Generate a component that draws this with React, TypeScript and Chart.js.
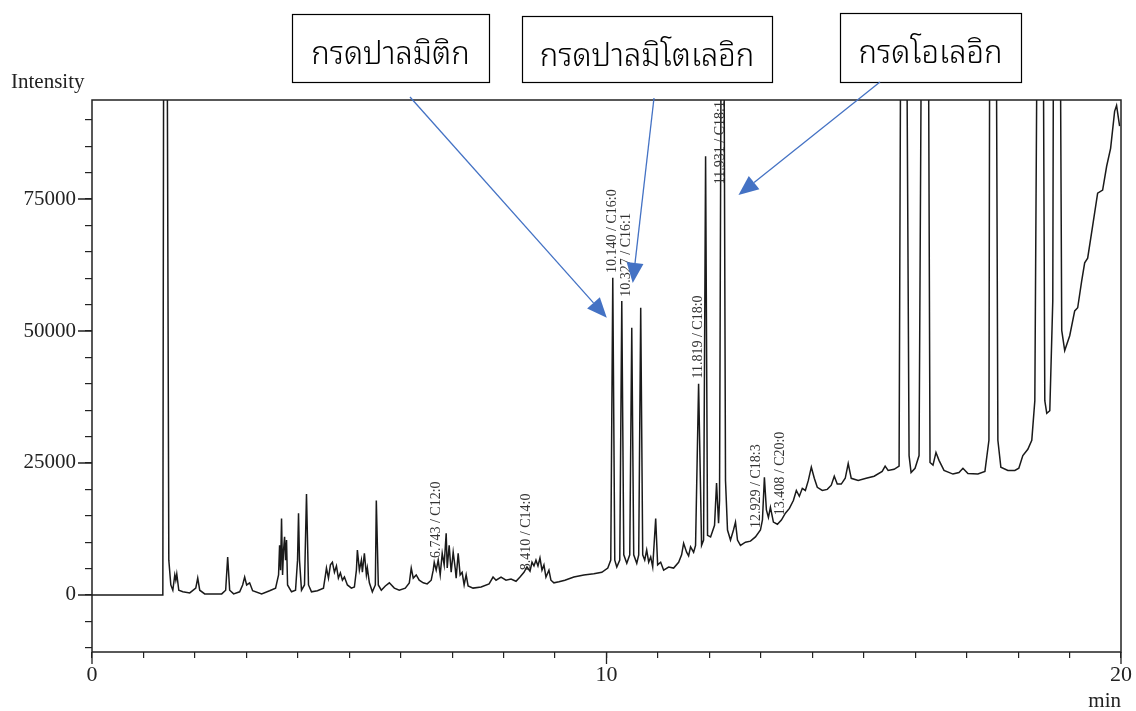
import React, { useEffect, useRef } from 'react';
import { Chart, registerables } from 'chart.js';

Chart.register(...registerables);

// Retention time (min)
const retentionTimes = [
  0, 1.377, 1.396, 1.454, 1.493, 1.532, 1.571, 1.609, 1.629, 1.648, 1.687, 1.765, 1.9, 2.017, 2.055, 2.094,
  2.191, 2.521, 2.598, 2.637, 2.676, 2.753, 2.87, 2.928, 2.967, 3.006, 3.064, 3.122, 3.297, 3.452, 3.568,
  3.626, 3.646, 3.665, 3.684, 3.704, 3.723, 3.743, 3.762, 3.781, 3.801, 3.878, 3.956, 3.995, 4.014, 4.033,
  4.072, 4.13, 4.169, 4.208, 4.266, 4.382, 4.499, 4.538, 4.557, 4.596, 4.634, 4.673, 4.712, 4.751, 4.789,
  4.828, 4.867, 4.906, 4.964, 5.042, 5.1, 5.139, 5.158, 5.197, 5.236, 5.255, 5.294, 5.333, 5.352, 5.391,
  5.449, 5.507, 5.526, 5.565, 5.623, 5.701, 5.779, 5.876, 5.972, 6.089, 6.167, 6.205, 6.244, 6.302, 6.36,
  6.438, 6.515, 6.593, 6.632, 6.652, 6.69, 6.729, 6.768, 6.807, 6.845, 6.884, 6.904, 6.942, 6.981, 7.02,
  7.059, 7.078, 7.117, 7.155, 7.194, 7.233, 7.272, 7.31, 7.407, 7.563, 7.718, 7.795, 7.853, 7.95, 8.047,
  8.144, 8.241, 8.319, 8.396, 8.454, 8.513, 8.552, 8.59, 8.629, 8.668, 8.707, 8.746, 8.784, 8.823, 8.881,
  8.92, 8.978, 9.075, 9.191, 9.366, 9.56, 9.754, 9.909, 10.025, 10.083, 10.122, 10.161, 10.2, 10.258,
  10.297, 10.336, 10.394, 10.452, 10.491, 10.529, 10.588, 10.626, 10.665, 10.704, 10.743, 10.781, 10.82,
  10.859, 10.898, 10.956, 10.994, 11.053, 11.111, 11.208, 11.305, 11.402, 11.46, 11.499, 11.557, 11.596,
  11.634, 11.693, 11.731, 11.79, 11.848, 11.887, 11.926, 11.964, 12.023, 12.1, 12.139, 12.178, 12.197,
  12.236, 12.275, 12.313, 12.352, 12.41, 12.468, 12.507, 12.546, 12.604, 12.701, 12.798, 12.895, 12.992,
  13.031, 13.069, 13.108, 13.147, 13.186, 13.244, 13.322, 13.399, 13.477, 13.555, 13.632, 13.69, 13.748,
  13.806, 13.865, 13.923, 13.981, 14.039, 14.097, 14.194, 14.291, 14.369, 14.427, 14.485, 14.563, 14.64,
  14.698, 14.757, 14.892, 15.047, 15.202, 15.358, 15.416, 15.474, 15.59, 15.687, 15.726, 15.823, 15.881,
  15.92, 15.997, 16.075, 16.133, 16.249, 16.288, 16.346, 16.404, 16.463, 16.56, 16.734, 16.851, 16.928,
  17.025, 17.219, 17.355, 17.433, 17.452, 17.568, 17.607, 17.665, 17.801, 17.937, 18.014, 18.092, 18.189,
  18.266, 18.325, 18.383, 18.48, 18.519, 18.557, 18.616, 18.674, 18.693, 18.809, 18.848, 18.906, 19.003,
  19.1, 19.158, 19.236, 19.294, 19.352, 19.449, 19.546, 19.643, 19.721, 19.798, 19.876, 19.914, 19.973,
];

// Detector intensity
const intensities = [
  0, 0, 130000, 130000, 6600, 1900, 900, 3800, 2800, 4000, 900, 600, 400, 1300, 3200, 900,
  200, 200, 900, 7200, 900, 200, 600, 1900, 3400, 1900, 2300, 800, 200, 800, 1300,
  3800, 9400, 4700, 14500, 3800, 8500, 11000, 6600, 10400, 1900, 600, 900, 6600, 15500, 6600,
  900, 1900, 19100, 1900, 600, 800, 1300, 3800, 5100, 3200, 5700, 6200, 4300, 5500, 3200,
  4200, 2800, 3400, 1900, 1300, 1500, 4700, 8500, 4700, 6600, 4300, 7900, 3800, 5100, 2300,
  600, 1900, 17900, 1900, 900, 1700, 2300, 1300, 900, 1300, 2300, 5100, 3200, 3800, 2800,
  2300, 2100, 2800, 4700, 6200, 4700, 6600, 3800, 7900, 5700, 11700, 5100, 9400, 4300, 8100,
  5100, 3200, 7900, 3800, 4300, 1900, 3800, 1700, 1300, 1500, 2100, 3400, 2800, 3400, 2800,
  3000, 2600, 3400, 4300, 5300, 4500, 6200, 5500, 6600, 5500, 7000, 4700, 5700, 3400, 4700,
  2800, 2300, 2500, 2800, 3400, 3800, 4000, 4300, 5100, 6600, 60100, 6600, 5300, 6600,
  55700, 7600, 6000, 7600, 50600, 7600, 6000, 7600, 54400, 7600, 6600, 8500, 6200,
  7200, 5300, 14500, 5700, 6200, 4700, 5300, 5100, 6200, 7600, 9800, 8100, 7400,
  9100, 8100, 9400, 40000, 9400, 10400, 83100, 11300, 11000, 13200, 21200, 13600, 17900,
  130000, 130000, 21700, 12300, 10400, 12300, 13800, 10400, 9400, 10000, 10200, 11000, 12300,
  14200, 22300, 16100, 14700, 16600, 13800, 13400, 14200, 15500, 16400, 17900, 19800, 18700,
  20200, 19800, 21700, 24200, 22100, 20400, 19800, 20000, 20800, 22500, 21000, 21000, 22100,
  24900, 22100, 21700, 22100, 22500, 23400, 24400, 23600, 23800, 24400, 130000, 130000, 26400,
  23200, 24000, 26400, 130000, 130000, 25100, 24600, 27000, 25500, 23600, 22900, 23200, 24000,
  23000, 22900, 23400, 29300, 130000, 130000, 29300, 24200, 23600, 23600, 24000, 26400, 27600,
  29300, 36800, 130000, 130000, 36800, 34400, 34900, 55700, 130000, 130000, 50100, 46300, 49100,
  53800, 54400, 59500, 62900, 63800, 69900, 76100, 76700, 81200, 84600, 91600, 92700, 88800,
];

// Peak annotations (rotated labels)
const peakLabelTexts = [
  '6.743 / C12:0', '8.410 / C14:0', '10.140 / C16:0', '10.327 / C16:1',
  '11.819 / C18:0', '11.931 / C18:1', '12.929 / C18:3', '13.408 / C20:0',
];
const peakLabelTimes = [6.69, 8.435, 10.12, 10.39, 11.79, 12.22, 12.915, 13.38];
const peakLabelBases = [7000, 4700, 61000, 56500, 41000, 77800, 12700, 15100];

// Axis ticks
const xTickValues = [0, 1, 2, 3, 4, 5, 6, 7, 8, 9, 10, 11, 12, 13, 14, 15, 16, 17, 18, 19, 20];
const xLabeledTicks = [0, 10, 20];
const yTickValues = [
  -10000, -5000, 0, 5000, 10000, 15000, 20000, 25000, 30000, 35000, 40000,
  45000, 50000, 55000, 60000, 65000, 70000, 75000, 80000, 85000, 90000,
];
const yLabeledTicks = [0, 25000, 50000, 75000];

// Callouts (Thai names) and the point each arrow targets
const calloutTexts = ['กรดปาลมิติก', 'กรดปาลมิโตเลอิก', 'กรดโอเลอิก'];
const calloutTargetTimes = [10.006, 10.51, 12.565];
const calloutTargetValues = [52500, 59100, 75750];

const SERIF = '"Liberation Serif", "Times New Roman", "DejaVu Serif", serif';
const THAI = '"Noto Sans Thai Looped", "Noto Serif Thai", "Noto Sans Thai", "Noto Sans", "DejaVu Sans", sans-serif';

// layout of the callout boxes (pixels) and arrow start points
const calloutBoxes = [
  { x: 292, y: 14, w: 197, h: 68, sx: 410, sy: 97 },
  { x: 522, y: 16, w: 250, h: 66, sx: 654, sy: 98 },
  { x: 840, y: 13, w: 181, h: 69, sx: 880, sy: 82 },
];

function drawArrow(ctx: CanvasRenderingContext2D, x0: number, y0: number, x1: number, y1: number) {
  const ang = Math.atan2(y1 - y0, x1 - x0);
  const headLen = 20;
  const headHalf = 8.5;
  const bx = x1 - Math.cos(ang) * headLen;
  const by = y1 - Math.sin(ang) * headLen;
  ctx.save();
  ctx.strokeStyle = '#4472C4';
  ctx.fillStyle = '#4472C4';
  ctx.lineWidth = 1.3;
  ctx.beginPath();
  ctx.moveTo(x0, y0);
  ctx.lineTo(bx, by);
  ctx.stroke();
  ctx.beginPath();
  ctx.moveTo(x1, y1);
  ctx.lineTo(bx + Math.sin(ang) * headHalf, by - Math.cos(ang) * headHalf);
  ctx.lineTo(bx - Math.sin(ang) * headHalf, by + Math.cos(ang) * headHalf);
  ctx.closePath();
  ctx.fill();
  ctx.restore();
}

const decorPlugin = {
  id: 'decor',
  afterDraw(chart: any) {
    const ctx: CanvasRenderingContext2D = chart.ctx;
    const { left, right, top, bottom } = chart.chartArea;
    const xs = chart.scales.x;
    const ys = chart.scales.y;
    ctx.save();
    // frame
    ctx.strokeStyle = '#222';
    ctx.lineWidth = 1.5;
    ctx.strokeRect(left, top, right - left, bottom - top);
    // longer major ticks
    ctx.lineWidth = 1.3;
    ctx.beginPath();
    yLabeledTicks.forEach((v) => {
      const py = ys.getPixelForValue(v);
      ctx.moveTo(left - 14, py);
      ctx.lineTo(left, py);
    });
    xLabeledTicks.forEach((v) => {
      const px = xs.getPixelForValue(v);
      ctx.moveTo(px, bottom);
      ctx.lineTo(px, bottom + 12);
    });
    ctx.stroke();
    // y axis title
    ctx.fillStyle = '#222';
    ctx.font = `21px ${SERIF}`;
    ctx.textAlign = 'left';
    ctx.textBaseline = 'alphabetic';
    ctx.fillText('Intensity', 11, 88);
    // peak labels
    ctx.fillStyle = '#333';
    ctx.font = `14px ${SERIF}`;
    peakLabelTexts.forEach((t, i) => {
      const px = xs.getPixelForValue(peakLabelTimes[i]);
      const py = ys.getPixelForValue(peakLabelBases[i]);
      ctx.save();
      ctx.translate(px, py);
      ctx.rotate(-Math.PI / 2);
      ctx.textAlign = 'left';
      ctx.textBaseline = 'middle';
      ctx.fillText(t, 0, 0);
      ctx.restore();
    });
    // callouts
    calloutTexts.forEach((t, i) => {
      const b = calloutBoxes[i];
      ctx.fillStyle = '#fff';
      ctx.fillRect(b.x, b.y, b.w, b.h);
      ctx.strokeStyle = '#000';
      ctx.lineWidth = 1.2;
      ctx.strokeRect(b.x + 0.5, b.y + 0.5, b.w, b.h);
      ctx.fillStyle = '#000';
      ctx.font = `300 31px ${THAI}`;
      ctx.textAlign = 'center';
      ctx.textBaseline = 'alphabetic';
      ctx.fillText(t, b.x + b.w / 2, b.y + 50);
      const tx = xs.getPixelForValue(calloutTargetTimes[i]);
      const ty = ys.getPixelForValue(calloutTargetValues[i]);
      drawArrow(ctx, b.sx, b.sy, tx, ty);
    });
    ctx.restore();
  },
};

export default function App() {
  const ref = useRef<HTMLCanvasElement>(null);
  useEffect(() => {
    const points = retentionTimes.map((t, i) => ({ x: t, y: intensities[i] }));
    const chart = new Chart(ref.current as HTMLCanvasElement, {
      type: 'line',
      data: {
        datasets: [
          {
            data: points,
            borderColor: '#1a1a1a',
            borderWidth: 1.5,
            pointRadius: 0,
            tension: 0,
            fill: false,
          },
        ],
      },
      options: {
        responsive: false,
        animation: false,
        devicePixelRatio: 1,
        layout: { padding: { left: 0, top: 100, right: 13, bottom: 0 } },
        plugins: { legend: { display: false }, tooltip: { enabled: false } },
        scales: {
          x: {
            type: 'linear',
            min: 0,
            max: 20,
            afterBuildTicks: (s: any) => {
              s.ticks = xTickValues.map((v) => ({ value: v }));
            },
            afterFit: (s: any) => {
              s.height = 59;
            },
            grid: { drawOnChartArea: false, drawTicks: true, tickLength: 6, color: '#222', lineWidth: 1.2 },
            border: { display: false },
            ticks: {
              autoSkip: false,
              maxRotation: 0,
              padding: 4,
              color: '#222',
              font: { family: SERIF, size: 22 },
              callback: (v: any) => (xLabeledTicks.includes(Number(v)) ? String(v) : ''),
            },
            title: {
              display: true,
              text: 'min',
              align: 'end',
              color: '#222',
              font: { family: SERIF, size: 21 },
              padding: { top: 0, bottom: -3 },
            },
          },
          y: {
            type: 'linear',
            min: -10800,
            max: 93750,
            afterBuildTicks: (s: any) => {
              s.ticks = yTickValues.map((v) => ({ value: v }));
            },
            afterFit: (s: any) => {
              s.width = 92;
            },
            grid: { drawOnChartArea: false, drawTicks: true, tickLength: 7, color: '#222', lineWidth: 1.2 },
            border: { display: false },
            ticks: {
              autoSkip: false,
              padding: 9,
              color: '#222',
              font: { family: SERIF, size: 21 },
              callback: (v: any) => (yLabeledTicks.includes(Number(v)) ? String(v) : ''),
            },
          },
        },
      },
      plugins: [decorPlugin],
    });
    return () => chart.destroy();
  }, []);
  return (
    <div style={{ position: 'absolute', left: 0, top: 0, width: 1136, height: 711, background: '#fff' }}>
      <canvas ref={ref} width={1136} height={711} style={{ display: 'block', width: 1136, height: 711 }} />
    </div>
  );
}
